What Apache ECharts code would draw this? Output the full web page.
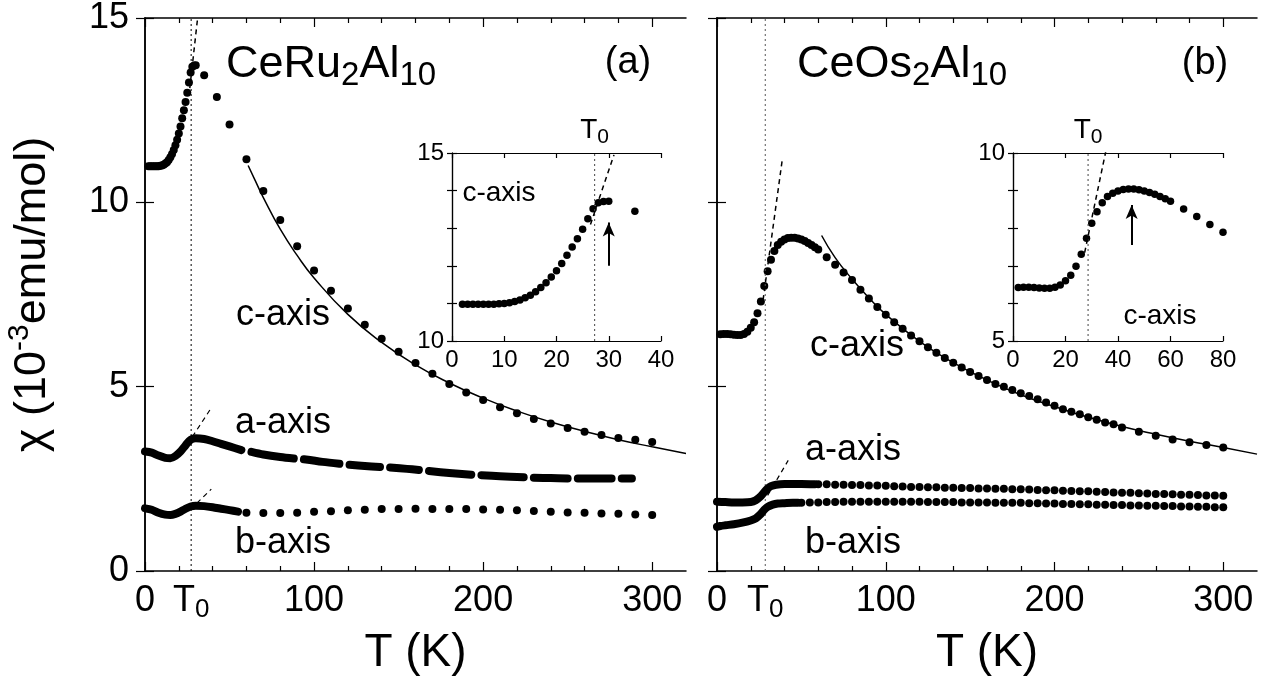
<!DOCTYPE html>
<html lang="en">
<head>
<meta charset="UTF-8">
<title>CeRu2Al10 / CeOs2Al10</title>
<script src="https://cdn.jsdelivr.net/npm/echarts@6.0.0/dist/echarts.min.js"></script>
<style>
  html, body { margin: 0; padding: 0; background: #fff; }
  #chart { width: 1266px; height: 683px; }
</style>
</head>
<body>
<div id="chart"></div>
<script>
var FONT = '"Liberation Sans", Arial, Helvetica, sans-serif';

// ---------- (a) CeRu2Al10 ----------
var t0Ru = 27.3;
var ruCTemp = [2,3,4,5,6,7,8,9,10,11,12,13,14,15,16,17,18,19,20,21,22,23,24,25,26,27,28,29,30,
  35,42.5,50,60,70,80,90,100,110,120,130,140,150,160,170,180,190,200,210,220,230,240,250,260,270,280,290,300];
var ruCVal = [10.98,10.98,10.98,10.98,10.98,10.98,10.98,10.99,11.00,11.02,11.05,11.09,11.15,11.22,11.31,11.42,11.55,11.70,11.87,12.06,12.28,12.50,12.72,12.97,13.25,13.52,13.68,13.71,13.72,
  13.45,12.86,12.11,11.17,10.31,9.52,8.81,8.15,7.60,7.12,6.68,6.30,5.95,5.64,5.35,5.07,4.84,4.64,4.44,4.28,4.12,4.00,3.88,3.78,3.69,3.61,3.56,3.50];
// a-axis: dense data drawn as thick strokes, null = gap in the data
var ruATemp = [0,4,8,12,15,18,21,24,27,30,35,40,45,50,57, 60, 63,70,80,88, 91, 94,105,115, 118, 121,130,139, 142,
  145,155,162, 165, 168,180,193, 196, 199,210,224, 227, 230,240,250, 253, 256,265,276, 279, 282,288];
var ruAVal = [3.24,3.21,3.13,3.07,3.06,3.12,3.24,3.41,3.56,3.60,3.58,3.52,3.45,3.38,3.28, null, 3.23,3.16,3.09,3.05, null, 3.03,2.96,2.91, null, 2.88,2.85,2.82, null,
  2.81,2.77,2.74, null, 2.71,2.66,2.61, null, 2.60,2.57,2.54, null, 2.53,2.52,2.51, null, 2.51,2.51,2.51, null, 2.51,2.51];
var ruBTemp = [0,4,8,12,15,18,21,24,27,30,35,40,45,50,55];
var ruBVal = [1.70,1.66,1.58,1.53,1.52,1.55,1.61,1.69,1.75,1.77,1.76,1.73,1.69,1.65,1.61];
var ruBDotTemp = [60,70,80,90,100,110,120,130,140,150,160,170,180,190,200,210,220,230,240,250,260,270,280,290,300];
var ruBDotVal = [1.58,1.57,1.57,1.58,1.61,1.62,1.65,1.66,1.68,1.68,1.69,1.68,1.68,1.68,1.67,1.66,1.65,1.63,1.61,1.59,1.58,1.56,1.55,1.53,1.52];
var ruFitTemp = [61,65,70,80,90,100,120,140,160,180,200,220,240,260,280,300,320];
var ruFitVal = [11.0,10.61,10.13,9.27,8.56,7.95,6.96,6.20,5.59,5.10,4.69,4.34,4.04,3.79,3.56,3.37,3.19];
var ruCDashT = [26.5, 31], ruCDashV = [13.1, 14.95];
var ruADashT = [28, 38.7], ruADashV = [3.64, 4.39];
var ruBDashT = [30.7, 39.2], ruBDashV = [1.84, 2.22];
var ruArrowT = [30, 30], ruArrowV = [12.0, 13.15];

// ---------- (b) CeOs2Al10 ----------
var t0Os = 28.6;
var osCTemp = [2,4,6,8,10,12,14,16,18,20,22,24,26,28,30,32,34,36,38,40,42,44,46,48,50,52,54,56,58,60,
  65,70,75,80,85,90,95,100,105,110,115,120,125,130,135,140,145,150,155,160,165,170,175,180,185,190,195,200,205,210,215,220,225,230,235,240,
  250,260,270,280,290,300];
var osCVal = [6.42,6.43,6.43,6.42,6.41,6.40,6.40,6.43,6.49,6.60,6.75,6.99,7.31,7.73,8.13,8.44,8.68,8.84,8.93,8.99,9.03,9.04,9.04,9.02,8.99,8.95,8.90,8.84,8.78,8.72,
  8.51,8.31,8.10,7.89,7.63,7.39,7.16,6.95,6.75,6.57,6.39,6.23,6.07,5.92,5.78,5.65,5.52,5.40,5.29,5.18,5.07,5.00,4.91,4.82,4.75,4.66,4.57,4.48,4.39,4.32,4.25,4.17,4.10,4.03,3.98,3.89,
  3.78,3.67,3.57,3.49,3.42,3.35];
var osATemp = [0,5,10,15,20,23,26,28,30,32,35,40,45,50,58];
var osAVal = [1.88,1.87,1.86,1.86,1.87,1.92,2.03,2.14,2.24,2.30,2.34,2.36,2.36,2.36,2.35];
var osBTemp = [0,2,5,10,15,20,23,26,28,30,33,36,40,45,48];
var osBVal = [1.20,1.22,1.24,1.27,1.31,1.37,1.43,1.55,1.66,1.74,1.80,1.83,1.84,1.85,1.85];
var osDotTemp = [50,55,60,65,70,75,80,85,90,95,100,105,110,115,120,125,130,135,140,145,150,155,160,165,170,175,180,185,190,195,200,
  205,210,215,220,225,230,235,240,245,250,255,260,265,270,275,280,285,290,295,300];
var osADotVal = [null,null,2.35,2.35,2.34,2.34,2.33,2.33,2.32,2.32,2.31,2.30,2.29,2.28,2.28,2.27,2.27,2.26,2.26,2.25,2.25,2.24,2.24,2.23,2.23,2.22,2.22,2.21,2.20,2.19,2.19,
  2.18,2.17,2.16,2.16,2.15,2.14,2.13,2.12,2.12,2.11,2.10,2.09,2.09,2.08,2.07,2.07,2.06,2.05,2.05,2.04];
var osBDotVal = [1.85,1.86,1.86,1.87,1.87,1.88,1.88,1.88,1.88,1.88,1.88,1.88,1.88,1.88,1.88,1.87,1.87,1.87,1.87,1.86,1.86,1.86,1.86,1.85,1.85,1.85,1.85,1.84,1.84,1.83,1.83,
  1.82,1.82,1.81,1.81,1.80,1.80,1.79,1.79,1.78,1.78,1.77,1.77,1.76,1.76,1.75,1.75,1.74,1.74,1.73,1.73];
var osFitTemp = [62,70,80,90,100,120,140,160,180,200,220,240,260,280,300,320];
var osFitVal = [9.10,8.50,7.92,7.41,6.96,6.23,5.65,5.18,4.78,4.46,4.17,3.92,3.71,3.52,3.35,3.17];
var osCDashT = [27.3, 38.8], osCDashV = [7.35, 11.2];
var osADashT = [30, 42.2], osADashV = [2.05, 3.0];
var osArrowT = [45.2, 45.2], osArrowV = [7.55, 8.62];

// axis ticks
var mainMajor = [0, 100, 200, 300];
var mainMinor = [20, 40, 60, 80, 120, 140, 160, 180, 220, 240, 260, 280];
var mainY = [0, 5, 10, 15];

function pts(t, v, maxT) {
  var out = [];
  for (var i = 0; i < t.length; i++) {
    if (maxT !== undefined && t[i] > maxT) continue;
    if (v[i] === null) { out.push([t[i], '-']); } else { out.push([t[i], v[i]]); }
  }
  return out;
}
function dropNull(a) { return a.filter(function (p) { return p[1] !== '-'; }); }

function tickRich(size, subSize, subLh) {
  return {
    n: { fontFamily: FONT, fontSize: size, lineHeight: size + 4, verticalAlign: 'top', color: '#000' },
    t: { fontFamily: FONT, fontSize: size, lineHeight: size + 4, verticalAlign: 'top', color: '#000' },
    s: { fontFamily: FONT, fontSize: subSize, lineHeight: subLh, verticalAlign: 'bottom', color: '#000' }
  };
}
function t0Fmt(t0) {
  return function (v) { return Math.abs(v - t0) < 0.01 ? '{t|T}{s|0}' : '{n|' + v + '}'; };
}

var LINE = { color: '#000', width: 1.5 };
var TICK = { color: '#000', width: 1.2 };

function mainX(grid, t0) {
  return [
    { gridIndex: grid, type: 'value', min: 0, max: 320, position: 'bottom',
      axisLine: { lineStyle: LINE }, splitLine: { show: false },
      axisTick: { inside: true, length: 9, customValues: mainMajor, lineStyle: TICK },
      axisLabel: { customValues: [0, t0, 100, 200, 300], formatter: t0Fmt(t0), rich: tickRich(36, 26, 10), margin: 12 },
      name: 'T (K)', nameLocation: 'middle', nameGap: 56,
      nameTextStyle: { fontFamily: FONT, fontSize: 46, lineHeight: 50, color: '#000' } },
    { gridIndex: grid, type: 'value', min: 0, max: 320, position: 'bottom',
      axisLine: { show: false }, splitLine: { show: false }, axisLabel: { show: false },
      axisTick: { inside: true, length: 5, customValues: mainMinor, lineStyle: TICK } },
    { gridIndex: grid, type: 'value', min: 0, max: 320, position: 'top',
      axisLine: { lineStyle: LINE }, splitLine: { show: false }, axisLabel: { show: false },
      axisTick: { inside: true, length: 9, customValues: mainMajor, lineStyle: TICK } },
    { gridIndex: grid, type: 'value', min: 0, max: 320, position: 'top',
      axisLine: { show: false }, splitLine: { show: false }, axisLabel: { show: false },
      axisTick: { inside: true, length: 5, customValues: mainMinor, lineStyle: TICK } }
  ];
}
function yPair(grid, min, max, interval, tickLen, labels, labelSize, lw) {
  var ls = { color: '#000', width: lw };
  return [
    { gridIndex: grid, type: 'value', min: min, max: max, interval: interval, position: 'left',
      axisLine: { show: true, lineStyle: ls }, splitLine: { show: false },
      axisTick: { inside: true, length: tickLen, lineStyle: TICK },
      axisLabel: labels ? { customValues: labels, fontFamily: FONT, fontSize: labelSize, color: '#000', margin: labelSize > 30 ? 16 : 8 } : { show: false } },
    { gridIndex: grid, type: 'value', min: min, max: max, interval: interval, position: 'right',
      axisLine: { show: true, lineStyle: ls }, splitLine: { show: false },
      axisTick: { inside: true, length: tickLen, lineStyle: TICK }, axisLabel: { show: false } }
  ];
}
function insetX(grid, max, interval, t0) {
  var ls = { color: '#000', width: 1.2 };
  return [
    { gridIndex: grid, type: 'value', min: 0, max: max, interval: interval, position: 'bottom',
      axisLine: { lineStyle: ls }, splitLine: { show: false },
      axisTick: { inside: true, length: 5, lineStyle: TICK },
      axisLabel: { fontFamily: FONT, fontSize: 24, color: '#000', margin: 7 } },
    { gridIndex: grid, type: 'value', min: 0, max: max, interval: interval, position: 'top',
      axisLine: { lineStyle: ls }, splitLine: { show: false },
      axisTick: { inside: true, length: 5, lineStyle: TICK },
      axisLabel: { customValues: [t0], formatter: t0Fmt(t0), rich: tickRich(28, 21, 8), margin: 5 } }
  ];
}

var xAxes = [].concat(mainX(0, t0Ru), mainX(1, t0Os), insetX(2, 40, 10, t0Ru), insetX(3, 80, 20, t0Os));
var yAxes = [].concat(
  yPair(0, 0, 15, 5, 9, mainY, 36, 1.5),
  yPair(1, 0, 15, 5, 9, null, 36, 1.5),
  yPair(2, 10, 15, 1, 5, [10, 15], 24, 1.2),
  yPair(3, 5, 10, 1, 5, [5, 10], 24, 1.2)
);
yAxes[0].name = '{m|\u03c7 (10}{p|-3}{m|emu/mol)}';
yAxes[0].nameLocation = 'middle';
yAxes[0].nameRotate = 90;
yAxes[0].nameGap = 90;
yAxes[0].nameTextStyle = {
  rich: {
    m: { fontFamily: FONT, fontSize: 45, lineHeight: 50, verticalAlign: 'bottom', color: '#000' },
    p: { fontFamily: FONT, fontSize: 30, lineHeight: 22, verticalAlign: 'top', color: '#000' }
  }
};

function dots(xi, yi, data, size) {
  return { type: 'scatter', xAxisIndex: xi, yAxisIndex: yi, data: data, symbol: 'circle',
    symbolSize: size, itemStyle: { color: '#000', opacity: 1 }, silent: true, animation: false };
}
function band(xi, yi, data) {
  return { type: 'line', xAxisIndex: xi, yAxisIndex: yi, data: data, symbol: 'none', smooth: 0.3,
    connectNulls: false, lineStyle: { color: '#000', width: 8, cap: 'round', join: 'round' }, silent: true, animation: false };
}
function stroke(xi, yi, data, type, width, color, smooth) {
  return { type: 'line', xAxisIndex: xi, yAxisIndex: yi, data: data, symbol: 'none', smooth: smooth || false,
    lineStyle: { color: color || '#000', width: width, type: type }, silent: true, animation: false };
}
function arrow(xi, yi, t, v) {
  var s = stroke(xi, yi, [], 'solid', 1, '#000');
  s.markLine = { silent: true, animation: false, symbol: ['none', 'arrow'], symbolSize: [9, 14],
    label: { show: false }, lineStyle: { color: '#000', width: 2, type: 'solid' },
    data: [[{ coord: [t[0], v[0]] }, { coord: [t[1], v[1]] }]] };
  return s;
}

var series = [
  // panel (a)
  stroke(0, 0, [[t0Ru, 0], [t0Ru, 15]], [2, 3], 1, '#000'),
  dots(0, 0, pts(ruCTemp, ruCVal), 8),
  band(0, 0, pts(ruATemp, ruAVal)),
  band(0, 0, pts(ruBTemp, ruBVal)),
  dots(0, 0, pts(ruBDotTemp, ruBDotVal), 8),
  stroke(0, 0, pts(ruFitTemp, ruFitVal), 'solid', 1.5, '#000', true),
  stroke(0, 0, pts(ruCDashT, ruCDashV), [5, 4], 1.5, '#000'),
  stroke(0, 0, pts(ruADashT, ruADashV), [5, 4], 1.2, '#000'),
  stroke(0, 0, pts(ruBDashT, ruBDashV), [5, 4], 1.2, '#000'),
  // panel (b)
  stroke(4, 2, [[t0Os, 0], [t0Os, 15]], [2, 3], 1, '#555'),
  dots(4, 2, pts(osCTemp, osCVal), 8),
  band(4, 2, pts(osATemp, osAVal)),
  band(4, 2, pts(osBTemp, osBVal)),
  dots(4, 2, dropNull(pts(osDotTemp, osADotVal)), 8),
  dots(4, 2, pts(osDotTemp, osBDotVal), 8),
  stroke(4, 2, pts(osFitTemp, osFitVal), 'solid', 1.5, '#000', true),
  stroke(4, 2, pts(osCDashT, osCDashV), [5, 4], 1.5, '#000'),
  stroke(4, 2, pts(osADashT, osADashV), [5, 4], 1.2, '#000'),
  // inset (a)
  stroke(8, 4, [[t0Ru, 10], [t0Ru, 15]], [2, 3], 1, '#444'),
  dots(8, 4, pts(ruCTemp, ruCVal, 40), 7.5),
  stroke(8, 4, pts(ruCDashT, ruCDashV), [5, 4], 1.5, '#000'),
  arrow(8, 4, ruArrowT, ruArrowV),
  // inset (b)
  stroke(10, 6, [[t0Os, 5], [t0Os, 10]], [2, 3], 1, '#444'),
  dots(10, 6, pts(osCTemp, osCVal, 80), 7.5),
  stroke(10, 6, pts(osCDashT, osCDashV), [5, 4], 1.5, '#000'),
  arrow(10, 6, osArrowT, osArrowV)
];

function label(x, y, text, size) {
  return { type: 'text', x: x, y: y, z: 10, silent: true,
    style: { text: text, fontFamily: FONT, fontSize: size, fill: '#000', align: 'center', verticalAlign: 'middle' } };
}
function formula(x, y, text) {
  return { type: 'text', x: x, y: y, z: 10, silent: true,
    style: { text: text, fill: '#000', align: 'left', verticalAlign: 'top',
      rich: {
        m: { fontFamily: FONT, fontSize: 45, lineHeight: 50, verticalAlign: 'top', fill: '#000' },
        s: { fontFamily: FONT, fontSize: 33, lineHeight: 12, verticalAlign: 'bottom', fill: '#000' }
      } } };
}

var chart = echarts.init(document.getElementById('chart'), null, { renderer: 'canvas' });
chart.setOption({
  backgroundColor: '#fff',
  animation: false,
  grid: [
    { left: 145, top: 18, width: 541, height: 553, outerBoundsMode: 'none' },
    { left: 717, top: 18, width: 540, height: 553, outerBoundsMode: 'none' },
    { left: 452, top: 153, width: 209, height: 188, outerBoundsMode: 'none' },
    { left: 1013, top: 153, width: 210, height: 188, outerBoundsMode: 'none' }
  ],
  xAxis: xAxes,
  yAxis: yAxes,
  series: series,
  graphic: [
    formula(226, 42, '{m|CeRu}{s|2}{m|Al}{s|10}'),
    formula(797, 42, '{m|CeOs}{s|2}{m|Al}{s|10}'),
    label(628, 63, '(a)', 38),
    label(1205, 64, '(b)', 38),
    label(283, 315, 'c-axis', 36),
    label(283, 423, 'a-axis', 36),
    label(283, 543, 'b-axis', 36),
    label(857, 346, 'c-axis', 36),
    label(853, 450, 'a-axis', 36),
    label(853, 543, 'b-axis', 36),
    label(499, 193, 'c-axis', 28),
    label(1160, 316, 'c-axis', 28)
  ]
});
</script>
</body>
</html>
